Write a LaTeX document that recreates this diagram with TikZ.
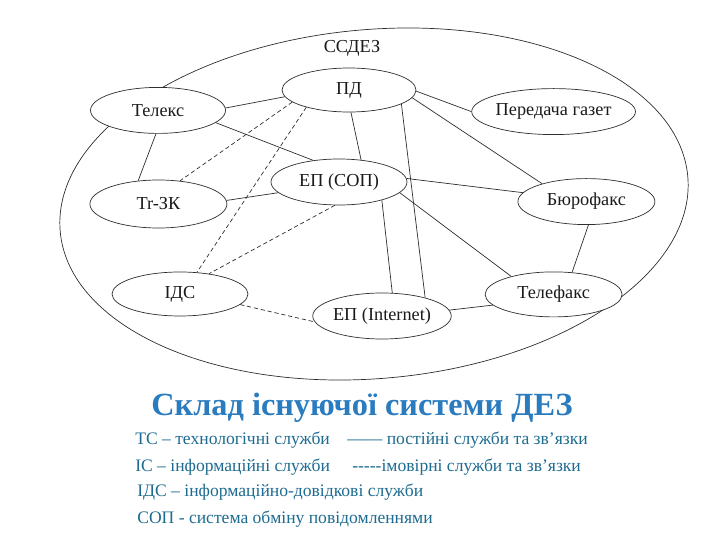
\documentclass[tikz,border=0pt]{standalone}
\usepackage{fontspec}
\setmainfont{Liberation Serif}
\usetikzlibrary{shapes.geometric}
\definecolor{dezInk}{HTML}{1A1A1A}
\definecolor{dezLine}{HTML}{2E2E2E}
\definecolor{dezTitle}{HTML}{2B7BBF}
\definecolor{dezLegend}{HTML}{1D6B90}
\tikzset{
  every picture/.style={font=\fontsize{13}{15}\selectfont, text=dezInk},
  dez node/.style={ellipse, draw=dezLine, line width=0.5pt, fill=white,
    inner sep=0pt, minimum width=34mm, minimum height=11.5mm},
  dez outer/.style={draw=dezLine, line width=0.5pt},
  dez solid/.style={draw=dezLine, line width=0.5pt},
  dez dashed/.style={draw=dezLine, line width=0.5pt, dash pattern=on 3pt off 2pt},
  dez legend/.style={anchor=base west, inner sep=0pt, text=dezLegend,
    font=\fontsize{12.5}{14}\selectfont}
}

\begin{document}
\begin{tikzpicture}
  \useasboundingbox (0,0) rectangle (18,13.5);
  \draw[dez outer,rotate around={5:(9.35,8.4)}] (9.35,8.4) ellipse [x radius=7.875, y radius=4.3625];
  \node (ssdez) at (8.8,12.3) {ССДЕЗ};

  \node[dez node,minimum width=33.5mm,minimum height=11mm] (pd) at (8.725,11.25) {ПД};
  \node[dez node,minimum width=33.75mm] (tel) at (3.95,10.74) {Телекс};
  \node[dez node,minimum width=34.25mm] (gaz) at (13.84,10.71) {Передача газет};
  \node[dez node] (sop) at (8.475,8.95) {ЕП (СОП)};
  \node[dez node,minimum width=34.25mm,minimum height=12mm] (trzk) at (3.96,8.4) {Tr-ЗК};
  \node[dez node,minimum width=34.25mm] (bur) at (14.66,8.46) {Бюрофакс};
  \node[dez node,minimum height=11mm] (ids) at (4.5,6.15) {ІДС};
  \node[dez node,minimum width=32.5mm] (epi) at (9.55,5.6) {ЕП (Internet)};
  \node[dez node,minimum width=34.25mm,minimum height=11.25mm] (telf) at (13.84,6.14) {Телефакс};

  % solid links
  \draw[dez solid] (tel.2) -- (pd.186);
  \draw[dez solid] (tel.-12) -- (sop.140);
  \draw[dez solid] (tel.-95) -- (trzk.131);
  \draw[dez solid] (pd.-1) -- (gaz.180);
  \draw[dez solid] (pd.-85) -- (sop.45);
  \draw[dez solid] (pd.-7) -- (bur.158);
  \draw[dez solid] (pd.-15) -- (epi.23);
  \draw[dez solid] (sop.190) -- (trzk.3);
  \draw[dez solid] (sop.3) -- (bur.172);
  \draw[dez solid] (sop.-10) -- (telf.157);
  \draw[dez solid] (sop.-23) -- (epi.66);
  \draw[dez solid] (bur.-85) -- (telf.50);
  \draw[dez solid] (epi.5) -- (telf.190);
  % dashed links
  \draw[dez dashed] (pd.192) -- (trzk.47);
  \draw[dez dashed] (pd.202) -- (ids.52);
  \draw[dez dashed] (sop.-100) -- (ids.35);
  \draw[dez dashed] (ids.-10) -- (epi.185);

  \node[anchor=base, text=dezTitle, font=\bfseries\fontsize{23}{26}\selectfont] (title) at (9.05,3.1) {Склад існуючої системи ДЕЗ};
  \node[dez legend] (lgTC) at (3.375,2.375) {ТС – технологічні служби};
  \node[dez legend] (lgPerm) at (8.675,2.375) {—— постійні служби та зв'язки};
  \node[dez legend] (lgIC) at (3.375,1.725) {ІС – інформаційні служби};
  \node[dez legend] (lgProb) at (8.8,1.725) {-{}-{}-{}-{}-імовірні служби та зв'язки};
  \node[dez legend] (lgIDS) at (3.425,1.075) {ІДС – інформаційно-довідкові служби};
  \node[dez legend] (lgSOP) at (3.425,0.425) {СОП - система обміну повідомленнями};
\end{tikzpicture}
\end{document}
